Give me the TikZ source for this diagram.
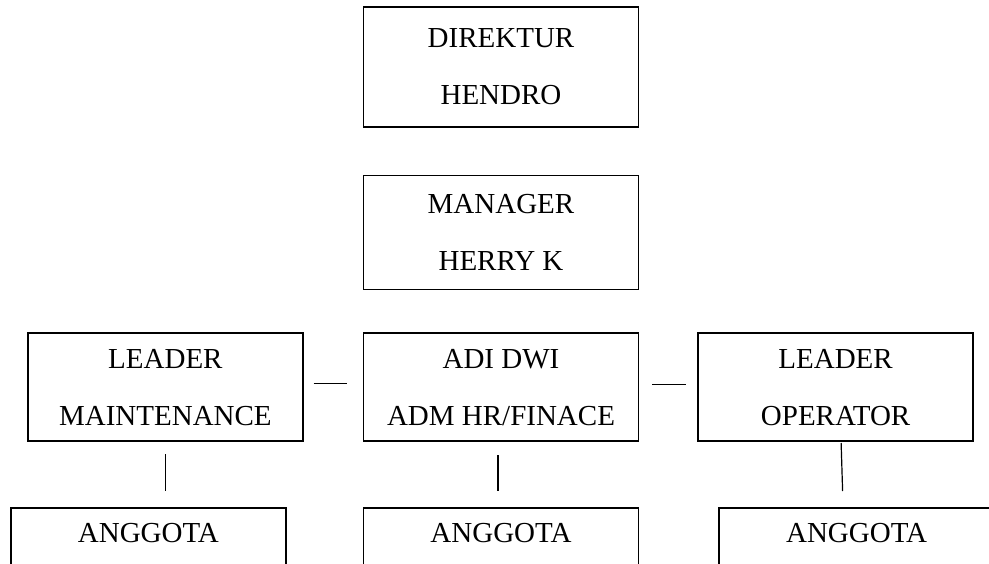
\documentclass[tikz,border=0pt]{standalone}
\usepackage{fontspec}
\setmainfont{Liberation Serif}
\usetikzlibrary{positioning}
\tikzset{
    post/.style={
        rectangle,
        draw=black,
        line width=1.6pt,
        minimum width=275pt,
        minimum height=108pt,
        inner sep=0pt,
        align=center,
        fill=white,
        font=\fontsize{29}{57}\selectfont
    },
    link/.style={
        draw=black,
        line width=1.2pt
    }
}
\begin{document}
\begin{tikzpicture}[x=1pt, y=-1pt]

\useasboundingbox (0,0) rectangle (989,564);
\clip (0,0) rectangle (989,564);

\node[post, minimum height=120pt] (dir) at (501,67) {DIREKTUR\\HENDRO};
\node[post, minimum height=114pt, below=47pt of dir] (mgr) {MANAGER\\HERRY K};

\node[post, below=42pt of mgr] (adi) {ADI DWI\\ADM HR/FINACE};
\node[post, left=59pt of adi] (lm) {LEADER\\MAINTENANCE};
\node[post, right=58pt of adi] (lo) {LEADER\\OPERATOR};

\node[post, below=65pt of adi] (ag2) {ANGGOTA\\\mbox{}};
\node[post, below=65pt of lm, xshift=-17pt] (ag1) {ANGGOTA\\\mbox{}};
\node[post, below=65pt of lo, xshift=21pt] (ag3) {ANGGOTA\\\mbox{}};

\draw[link, shorten <=10pt, shorten >=16pt] ([yshift=4pt]lm.east) -- ([yshift=4pt]adi.west);
\draw[link, shorten <=13pt, shorten >=11pt] ([yshift=3pt]adi.east) -- ([yshift=3pt]lo.west);

\draw[link, shorten <=12pt, shorten >=16pt] (lm.south) -- (lm.south |- ag1.north);
\draw[link, shorten <=13pt, shorten >=16pt] ([xshift=-3pt]adi.south) -- ([xshift=-3pt]adi.south |- ag2.north);
\draw[link, shorten <=1pt, shorten >=16pt] ([xshift=5.5pt]lo.south) -- ([xshift=7.5pt]lo.south |- ag3.north);

\end{tikzpicture}
\end{document}
